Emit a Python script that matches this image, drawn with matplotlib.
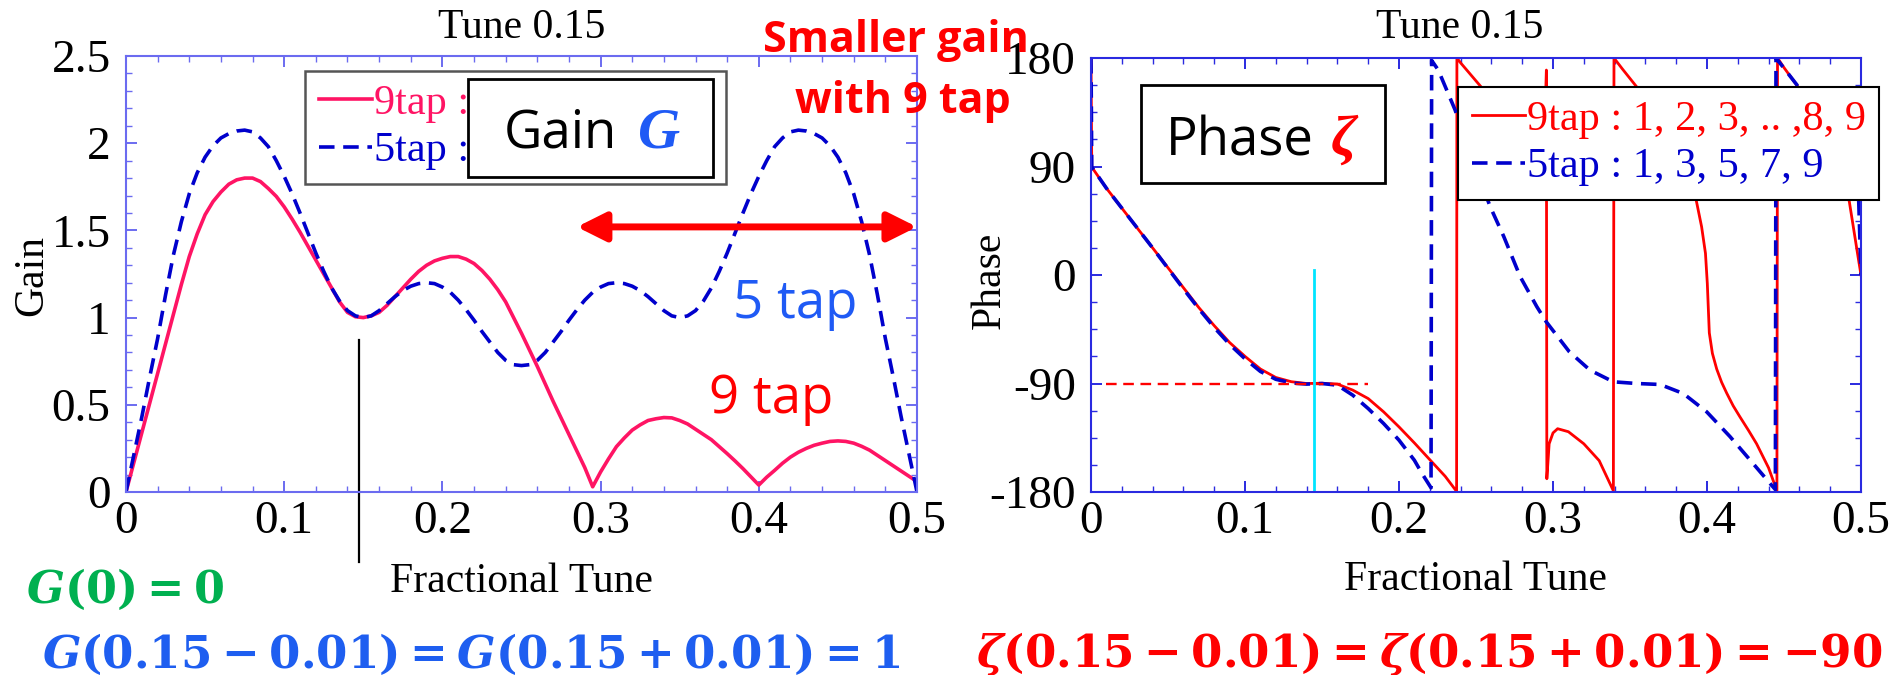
import matplotlib
matplotlib.use("Agg")
import matplotlib.pyplot as plt
from matplotlib.patches import Rectangle
from matplotlib.ticker import MultipleLocator, FixedLocator, FixedFormatter

plt.rcParams["font.family"] = ["Liberation Serif", "DejaVu Sans"]
plt.rcParams["mathtext.fontset"] = "custom"
plt.rcParams["mathtext.rm"] = "DejaVu Serif:bold"
plt.rcParams["mathtext.it"] = "DejaVu Serif:italic:bold"
plt.rcParams["mathtext.bf"] = "DejaVu Serif:bold"

# ---------------- data ----------------
gain_tune = [0.000, 0.005, 0.010, 0.015, 0.020, 0.025, 0.030, 0.035, 0.040, 0.045,
             0.050, 0.055, 0.060, 0.065, 0.070, 0.075, 0.080, 0.085, 0.090, 0.095,
             0.100, 0.105, 0.110, 0.115, 0.120, 0.125, 0.130, 0.135, 0.140, 0.145,
             0.150, 0.155, 0.160, 0.165, 0.170, 0.175, 0.180, 0.185, 0.190, 0.195,
             0.200, 0.205, 0.210, 0.215, 0.220, 0.225, 0.230, 0.235, 0.240, 0.245,
             0.250, 0.255, 0.260, 0.265, 0.270, 0.275, 0.280, 0.285, 0.290, 0.295,
             0.300, 0.305, 0.310, 0.315, 0.320, 0.325, 0.330, 0.335, 0.340, 0.345,
             0.350, 0.355, 0.360, 0.365, 0.370, 0.375, 0.380, 0.385, 0.390, 0.395,
             0.400, 0.405, 0.410, 0.415, 0.420, 0.425, 0.430, 0.435, 0.440, 0.445,
             0.450, 0.455, 0.460, 0.465, 0.470, 0.475, 0.480, 0.485, 0.490, 0.495,
             0.500]
gain9 = [0.00, 0.17, 0.34, 0.51, 0.68, 0.85, 1.02, 1.19, 1.35, 1.48,
         1.59, 1.665, 1.72, 1.765, 1.79, 1.80, 1.80, 1.78, 1.74, 1.695,
         1.635, 1.565, 1.49, 1.41, 1.33, 1.25, 1.17, 1.09, 1.03, 1.005,
         1.00, 1.01, 1.03, 1.07, 1.12, 1.17, 1.22, 1.265, 1.30, 1.325,
         1.34, 1.35, 1.35, 1.335, 1.31, 1.27, 1.22, 1.16, 1.09, 1.00,
         0.91, 0.815, 0.72, 0.62, 0.52, 0.425, 0.33, 0.235, 0.14, 0.03,
         0.115, 0.19, 0.26, 0.31, 0.355, 0.385, 0.41, 0.42, 0.427, 0.425,
         0.41, 0.39, 0.36, 0.33, 0.30, 0.26, 0.22, 0.178, 0.134, 0.087,
         0.04, 0.085, 0.124, 0.165, 0.20, 0.228, 0.25, 0.268, 0.28, 0.29,
         0.293, 0.29, 0.28, 0.262, 0.24, 0.21, 0.18, 0.15, 0.12, 0.09,
         0.06]
gain5 = [0.00, 0.215, 0.43, 0.66, 0.88, 1.13, 1.36, 1.55, 1.71, 1.83,
         1.92, 1.985, 2.03, 2.055, 2.07, 2.075, 2.065, 2.03, 1.98, 1.90,
         1.81, 1.71, 1.60, 1.485, 1.37, 1.265, 1.17, 1.095, 1.04, 1.01,
         1.00, 1.01, 1.04, 1.08, 1.12, 1.155, 1.18, 1.195, 1.20, 1.195,
         1.175, 1.145, 1.10, 1.045, 0.985, 0.92, 0.86, 0.80, 0.755, 0.73,
         0.725, 0.73, 0.755, 0.80, 0.86, 0.92, 0.985, 1.045, 1.10, 1.145,
         1.175, 1.195, 1.20, 1.195, 1.18, 1.155, 1.12, 1.08, 1.04, 1.01,
         1.00, 1.01, 1.04, 1.095, 1.17, 1.265, 1.37, 1.485, 1.60, 1.71,
         1.81, 1.90, 1.98, 2.03, 2.065, 2.075, 2.07, 2.055, 2.03, 1.985,
         1.92, 1.83, 1.71, 1.55, 1.36, 1.13, 0.88, 0.66, 0.43, 0.215,
         0.00]

phase9_tune = [0.0, 0.0005, 0.01, 0.02, 0.03, 0.04, 0.05, 0.06, 0.07, 0.08, 0.09,
               0.10, 0.11, 0.12, 0.13, 0.14, 0.15, 0.16, 0.17, 0.18, 0.19, 0.20,
               0.21, 0.22, 0.23, 0.2374, 0.2376, 0.24, 0.25, 0.26, 0.27, 0.28,
               0.29, 0.293, 0.295, 0.2957, 0.2960, 0.2975, 0.300, 0.303, 0.31,
               0.32, 0.33, 0.3392, 0.3396, 0.345, 0.35, 0.36, 0.37, 0.38, 0.39,
               0.393, 0.3965, 0.399, 0.4002, 0.4015, 0.4035, 0.4063, 0.4095,
               0.4128, 0.4170, 0.4214, 0.4270, 0.4322, 0.440, 0.4454, 0.4458,
               0.45, 0.458, 0.47, 0.48, 0.4924, 0.495, 0.4981, 0.50]
phase9 = [180, 89.5, 72, 55.5, 39, 22.5, 6, -10.5, -27, -42, -56,
          -67.5, -78, -85, -88.5, -90, -89.8, -90.5, -95.5, -102.5, -113.5, -126,
          -139.3, -153.2, -167, -179.5, 180, 176, 161, 146, 132, 119,
          110, 118, 140, 170, -169, -140, -131, -127.5, -130,
          -140, -154, -179, 180, 171, 163, 147, 131, 112, 82,
          62, 40, 18, -7, -48, -65, -78, -89,
          -98, -108.5, -117.7, -129, -140, -160, -179, 180,
          172, 158, 136, 112, 61, 40, 15, 0]

phase5_tune = [0.0, 0.0005, 0.01, 0.02, 0.03, 0.04, 0.05, 0.06, 0.07, 0.08, 0.09,
               0.10, 0.11, 0.12, 0.13, 0.14, 0.15, 0.16, 0.17, 0.18, 0.19, 0.20,
               0.21, 0.215, 0.2208, 0.2212, 0.2255, 0.2364, 0.245, 0.2525, 0.2591,
               0.268, 0.2787, 0.2895, 0.2956, 0.3106, 0.324, 0.3392, 0.3543,
               0.3695, 0.3846, 0.3998, 0.4149, 0.43, 0.441, 0.4444, 0.4448,
               0.4582, 0.47, 0.48, 0.49, 0.4985, 0.50]
phase5 = [180, 89.5, 72, 55.5, 39, 22.5, 5.5, -11.5, -28, -43.5, -57.5,
          -69.5, -80, -86.5, -89.5, -90.5, -90, -91.4, -99.7, -110.8, -123.2, -137,
          -153.7, -164.8, -176.5, 178, 170, 137, 105, 80, 57,
          32, -1.4, -26.3, -38.8, -63.7, -78.9, -88.6, -90,
          -90.8, -98.3, -113.5, -134, -156.5, -173, -178, 180,
          158, 135, 115, 90, 62, 0]

legend9 = "9tap : 1, 2, 3, .. ,8, 9"
legend5 = "5tap : 1, 3, 5, 7, 9"
gain_ticks = [0, 0.5, 1, 1.5, 2, 2.5]
gain_ticklabels = ["0", "0.5", "1", "1.5", "2", "2.5"]
phase_ticks = [-180, -90, 0, 90, 180]
phase_ticklabels = ["-180", "-90", "0", "90", "180"]
tune_ticks = [0, 0.1, 0.2, 0.3, 0.4, 0.5]
tune_ticklabels = ["0", "0.1", "0.2", "0.3", "0.4", "0.5"]
design_tune = 0.15
design_phase = -90

# ---------------- figure ----------------
W, H = 1893, 675
fig = plt.figure(figsize=(W / 100, H / 100), dpi=100)


def fx(px):
    return px / W


def fy(py):
    return 1 - py / H


axL = fig.add_axes([fx(126), fy(492), fx(917) - fx(126), fy(56) - fy(492)])
axR = fig.add_axes([fx(1091), fy(492), fx(1861) - fx(1091), fy(58) - fy(492)])

PINK = "#ff1464"
DBLUE = "#0000cc"
RED = "#ff0000"
TXTBLUE = "#1f5af5"


def style_axes(ax, color, xt, xtl, yt, ytl, xminor, yminor):
    for s in ax.spines.values():
        s.set_color(color)
        s.set_linewidth(1.5)
    ax.xaxis.set_major_locator(FixedLocator(xt))
    ax.xaxis.set_major_formatter(FixedFormatter(xtl))
    ax.yaxis.set_major_locator(FixedLocator(yt))
    ax.yaxis.set_major_formatter(FixedFormatter(ytl))
    ax.xaxis.set_minor_locator(MultipleLocator(xminor))
    ax.yaxis.set_minor_locator(MultipleLocator(yminor))
    ax.tick_params(which="both", direction="in", top=True, right=True,
                   color=color, labelcolor="black", labelsize=34)
    ax.tick_params(which="major", length=8, width=1.4)
    ax.tick_params(which="minor", length=4.5, width=1.0)
    ax.tick_params(axis="x", which="major", pad=6)
    ax.tick_params(axis="y", which="major", pad=11)


# ---------------- gain panel ----------------
axL.plot(gain_tune, gain9, color=PINK, lw=2.6, label=legend9)
axL.plot(gain_tune, gain5, color=DBLUE, lw=2.6, ls=(0, (4.3, 2.4)), label=legend5)
axL.set_xlim(0, 0.5)
axL.set_ylim(0, 2.5)
style_axes(axL, "#6b6bf0", tune_ticks, tune_ticklabels, gain_ticks,
           gain_ticklabels, 0.02, 0.1)

axL.set_xlabel("Fractional Tune", fontsize=30)
axL.xaxis.label.set_va("center")
axL.xaxis.set_label_coords(0.5, (492 - 582) / 436)
axL.set_ylabel("Gain", fontsize=30)
axL.yaxis.label.set_va("center")
axL.yaxis.set_label_coords((32 - 126) / 791, (492 - 276) / 436)

legL = axL.legend(loc="upper left", bbox_to_anchor=((305 - 126) / 791, (492 - 71) / 436),
                  borderaxespad=0, fontsize=30.5, handlelength=1.25, handletextpad=0.05,
                  borderpad=0.32, labelspacing=0.2, fancybox=False, framealpha=1,
                  edgecolor="#555555", labelcolor="linecolor")
legL.get_frame().set_linewidth(1.8)

# marker at the design tune, running below the axis
axL.plot([design_tune - 0.003, design_tune - 0.003], [0.87, -0.40], color="black",
         lw=1.6, clip_on=False)

# double-headed arrow over the high-tune band
axL.annotate("", xy=(0.5, 1.52), xytext=(0.285, 1.52),
             arrowprops=dict(arrowstyle="<|-|>,head_length=0.7,head_width=0.35",
                             color=RED, lw=5, mutation_scale=25, shrinkA=0, shrinkB=0),
             annotation_clip=False)
axL.text(0.423, 0.998, "5 tap", color=TXTBLUE, fontsize=38, family="Open Sans",
         ha="center", va="baseline")
axL.text(0.408, 0.453, "9 tap", color=RED, fontsize=38, family="Open Sans",
         ha="center", va="baseline")

# ---------------- phase panel ----------------
axR.plot(phase9_tune, phase9, color=RED, lw=2.0, label=legend9)
axR.plot(phase5_tune, phase5, color=DBLUE, lw=2.6, ls=(0, (4.3, 2.4)), label=legend5)
axR.plot([0.0095, 0.18], [design_phase, design_phase], color=RED, lw=1.7,
         ls=(0, (4.5, 2.8)))
axR.plot([0.145, 0.145], [-180, 4], color="#00e5ff", lw=2.0)
axR.set_xlim(0, 0.5)
axR.set_ylim(-180, 180)
style_axes(axR, "#2a2ae0", tune_ticks, tune_ticklabels, phase_ticks,
           phase_ticklabels, 0.02, 22.5)
axR.set_xlabel("Fractional Tune", fontsize=30)
axR.xaxis.label.set_va("center")
axR.xaxis.set_label_coords(0.5, (492 - 580) / 434)
axR.set_ylabel("Phase", fontsize=30)
axR.yaxis.label.set_va("center")
axR.yaxis.set_label_coords((990 - 1091) / 770, (492 - 280) / 434)

legR = axR.legend(loc="upper left", bbox_to_anchor=((1458 - 1091) / 770, (492 - 87) / 434),
                  borderaxespad=0, fontsize=30.5, handlelength=1.25, handletextpad=0.05,
                  borderpad=0.32, labelspacing=0.2, fancybox=False, framealpha=1,
                  edgecolor="black", labelcolor="linecolor")
legR.get_frame().set_linewidth(1.5)

# ---------------- titles and boxed labels ----------------
fig.text(fx(522), fy(28), "Tune 0.15", fontsize=30, ha="center", va="center")
fig.text(fx(1460), fy(28), "Tune 0.15", fontsize=30, ha="center", va="center")


def boxed(x0, y0, x1, y1):
    r = Rectangle((fx(x0), fy(y1)), fx(x1) - fx(x0), fy(y0) - fy(y1),
                  transform=fig.transFigure, facecolor="white", edgecolor="black",
                  lw=2, zorder=10)
    fig.add_artist(r)


boxed(468, 79, 713, 177)
fig.text(fx(504), fy(148), "Gain", fontsize=38, family="Open Sans",
         ha="left", va="baseline", zorder=11)
fig.text(fx(638), fy(148), "G", fontsize=42, color=TXTBLUE, weight="bold",
         style="italic", ha="left", va="baseline", zorder=11)

boxed(1141, 85, 1385, 183)
fig.text(fx(1166), fy(155), "Phase", fontsize=38, family="Open Sans",
         ha="left", va="baseline", zorder=11)
fig.text(fx(1331), fy(155), "ζ", fontsize=42, color=RED, weight="bold",
         style="italic", ha="left", va="baseline", zorder=11)

fig.text(fx(896), fy(52), "Smaller gain", fontsize=31, family="Open Sans",
         weight="bold", color=RED, ha="center", va="baseline", zorder=12)
fig.text(fx(903), fy(113), "with 9 tap", fontsize=31, family="Open Sans",
         weight="bold", color=RED, ha="center", va="baseline", zorder=12)

# ---------------- design conditions ----------------
fig.text(fx(26), fy(589), r"$G(0)=0$", fontsize=32, color="#00b050",
         ha="left", va="center")
fig.text(fx(42), fy(654), r"$G(0.15-0.01)=G(0.15+0.01)=1$", fontsize=32.5,
         color="#1e5ef0", ha="left", va="center")
fig.text(fx(976), fy(654), r"$\zeta(0.15-0.01)=\zeta(0.15+0.01)=-90$",
         fontsize=32.5, color=RED, ha="left", va="center")

fig.savefig("out.png", dpi=100)
